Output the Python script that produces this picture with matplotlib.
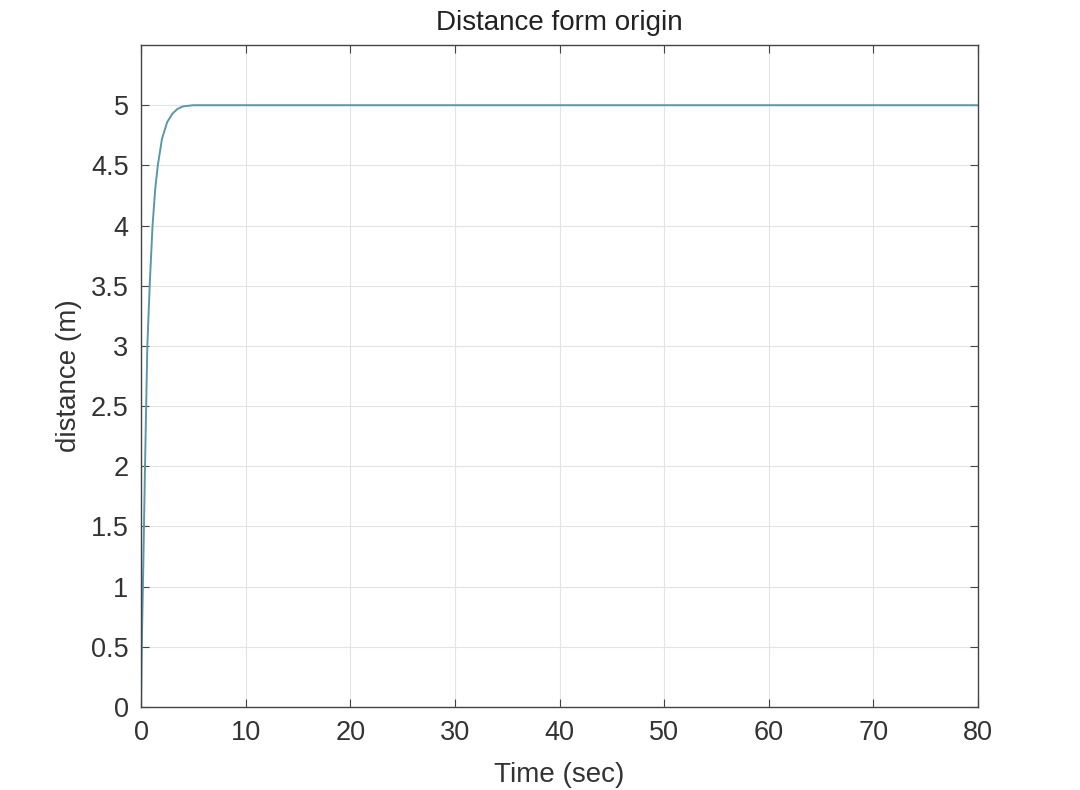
import numpy as np
import matplotlib
matplotlib.use("Agg")
import matplotlib.pyplot as plt

# values
tiempo = [0, 0.05, 0.1, 0.22, 0.38, 0.6, 0.85, 1.1, 1.35, 1.6, 2.0, 2.5, 3.0, 3.5, 4.0, 5.0, 10.0, 80.0]
distancia = [0, 0.35, 0.65, 1.2, 2.0, 3.0, 3.55, 4.0, 4.3, 4.5, 4.72, 4.86, 4.93, 4.97, 4.99, 5.0, 5.0, 5.0]

xticks = [0, 10, 20, 30, 40, 50, 60, 70, 80]
yticks = [0, 0.5, 1, 1.5, 2, 2.5, 3, 3.5, 4, 4.5, 5]
ylabels = ["0", "0.5", "1", "1.5", "2", "2.5", "3", "3.5", "4", "4.5", "5"]

plt.rcParams['font.family'] = ['Liberation Sans', 'DejaVu Sans']

fig = plt.figure(figsize=(10.8, 7.9), dpi=100)
ax = fig.add_axes([0.1306, 0.105, 0.775, 0.838])

ax.plot(tiempo, distancia, color="#5a97ad", linewidth=1.4)

ax.set_xlim(0, 80)
ax.set_ylim(0, 5.5)
ax.set_xticks(xticks)
ax.set_yticks(yticks)
ax.set_yticklabels(ylabels)
ax.grid(True, color="#e3e3e3", linewidth=0.8)
ax.tick_params(direction="in", top=True, right=True, labelsize=19.5, length=6,
               color="#444444", labelcolor="#333333")
ax.tick_params(axis="x", pad=9)
ax.tick_params(axis="y", pad=9)
for s in ax.spines.values():
    s.set_color("#444444")
    s.set_linewidth(1.0)

ax.set_title("Distance form origin", fontsize=20, color="#222222", pad=11)
ax.set_xlabel("Time (sec)", fontsize=20, color="#333333", labelpad=12)
ax.set_ylabel("distance (m)", fontsize=20, color="#333333", labelpad=6)

plt.savefig("out.png", dpi=100)
